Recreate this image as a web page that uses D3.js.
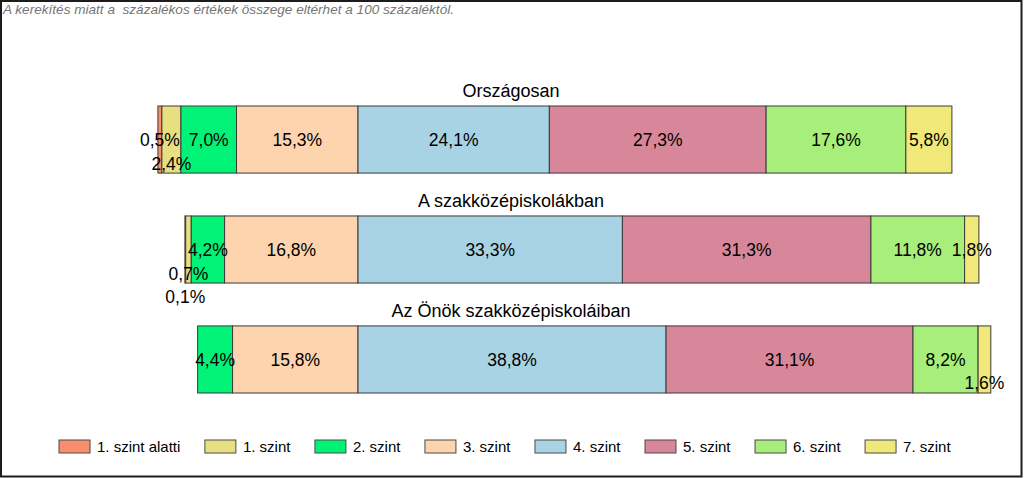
<!DOCTYPE html>
<html><head><meta charset="utf-8">
<script src="https://cdn.jsdelivr.net/npm/d3@7"></script>
<style>
html,body{margin:0;padding:0;background:#fff;}
svg{display:block;font-family:"Liberation Sans",Arial,sans-serif;}
</style></head>
<body>
<svg id="chart" width="1024" height="478"></svg>
<script>
const note = "A kerekítés miatt a  százalékos értékek összege eltérhet a 100 százaléktól.";
const groups = ["Országosan", "A szakközépiskolákban", "Az Önök szakközépiskoláiban"];
const levels = ["1. szint alatti","1. szint","2. szint","3. szint","4. szint","5. szint","6. szint","7. szint"];
const colors = ["#F98E6C","#E8DF80","#00F276","#FDD4AE","#A7D3E4","#D8879A","#A8EE7A","#F0E97A"];
const orszagosan = [0.5, 2.4, 7.0, 15.3, 24.1, 27.3, 17.6, 5.8];
const szakkozep  = [0.1, 0.7, 4.2, 16.8, 33.3, 31.3, 11.8, 1.8];
const onok       = [0.0, 0.0, 4.4, 15.8, 38.8, 31.1, 8.2, 1.6];
const seriesValues = [orszagosan, szakkozep, onok];
const pivot = 4; // levels before index 4 go to the left of the zero line

const svg = d3.select("#chart");

svg.append("rect").attr("x",1).attr("y",1).attr("width",1020.5).attr("height",475.5)
  .attr("fill","#fff").attr("stroke","#1c1c1c").attr("stroke-width",2);

svg.append("text").attr("x",3).attr("y",14)
  .attr("font-size",13.5).attr("font-style","italic").attr("fill","#767676")
  .style("white-space","pre").attr("textLength",451).attr("lengthAdjust","spacingAndGlyphs")
  .text(note);

const x = d3.scaleLinear().domain([-25, 80]).range([159.5, 993.2]);
const y = d3.scaleBand().domain(groups).range([106, 393]).paddingInner(0.39).paddingOuter(0);

const fmt = v => d3.format(".1f")(v).replace(".", ",") + "%";
const labelFont = 17.5;

const meas = svg.append("text").attr("visibility","hidden");
function textW(s, fs){ meas.attr("font-size", fs).text(s); return meas.node().getComputedTextLength(); }

groups.forEach((g, gi) => {
  const vals = seriesValues[gi];
  const leftSum = d3.sum(vals.slice(0, pivot));
  let acc = -leftSum;
  const segs = vals.map((v, i) => {
    const s = {i, v, x0: acc, x1: acc + v};
    acc += v;
    return s;
  });
  const gEl = svg.append("g");
  const top = y(g), bh = y.bandwidth();

  gEl.append("text").attr("x", 511).attr("y", top - 9)
    .attr("text-anchor","middle").attr("font-size",18).attr("fill","#000").text(g);

  gEl.selectAll("rect.seg").data(segs.filter(s => s.v > 0)).join("rect")
    .attr("class","seg")
    .attr("x", s => x(s.x0)).attr("y", top)
    .attr("width", s => x(s.x1) - x(s.x0)).attr("height", bh)
    .attr("fill", s => colors[s.i]).attr("stroke","#3a3a3a").attr("stroke-width",1);

  // label placement: from the zero line outward, first-fit levels
  const order = [];
  for (let i = pivot - 1; i >= 0; i--) order.push(segs[i]);
  for (let i = pivot; i < segs.length; i++) order.push(segs[i]);
  const rows = [[], [], [], []];
  const placed = [];
  order.forEach(s => {
    if (s.v <= 0) return;
    const cx = (x(s.x0) + x(s.x1)) / 2;
    const t = fmt(s.v);
    const w = textW(t, labelFont);
    const a = cx - w/2 - 1, b = cx + w/2 + 1;
    let lvl = 0;
    while (rows[lvl].some(r => !(b < r[0] || a > r[1]))) lvl++;
    rows[lvl].push([a, b]);
    placed.push({cx, t, lvl});
  });
  gEl.selectAll("text.lbl").data(placed).join("text")
    .attr("class","lbl")
    .attr("x", d => d.cx).attr("y", d => top + bh/2 + 6.5 + d.lvl * 23.5)
    .attr("text-anchor","middle").attr("font-size",labelFont).attr("fill","#000")
    .text(d => d.t);
});

// legend: items laid out by their text widths
const legFont = 15;
let lxPos = 59;
const legPos = levels.map(l => { const p = lxPos; lxPos += 38 + textW(l, legFont) + 24.5; return p; });
meas.remove();
const leg = svg.append("g").selectAll("g").data(levels).join("g")
  .attr("transform", (d, i) => `translate(${legPos[i]},440)`);
leg.append("rect").attr("width",31).attr("height",13)
  .attr("fill", (d, i) => colors[i]).attr("stroke","#4a4a4a").attr("stroke-width",1);
leg.append("text").attr("x",38).attr("y",12).attr("font-size",legFont).attr("fill","#000").text(d => d);
</script>
</body></html>
